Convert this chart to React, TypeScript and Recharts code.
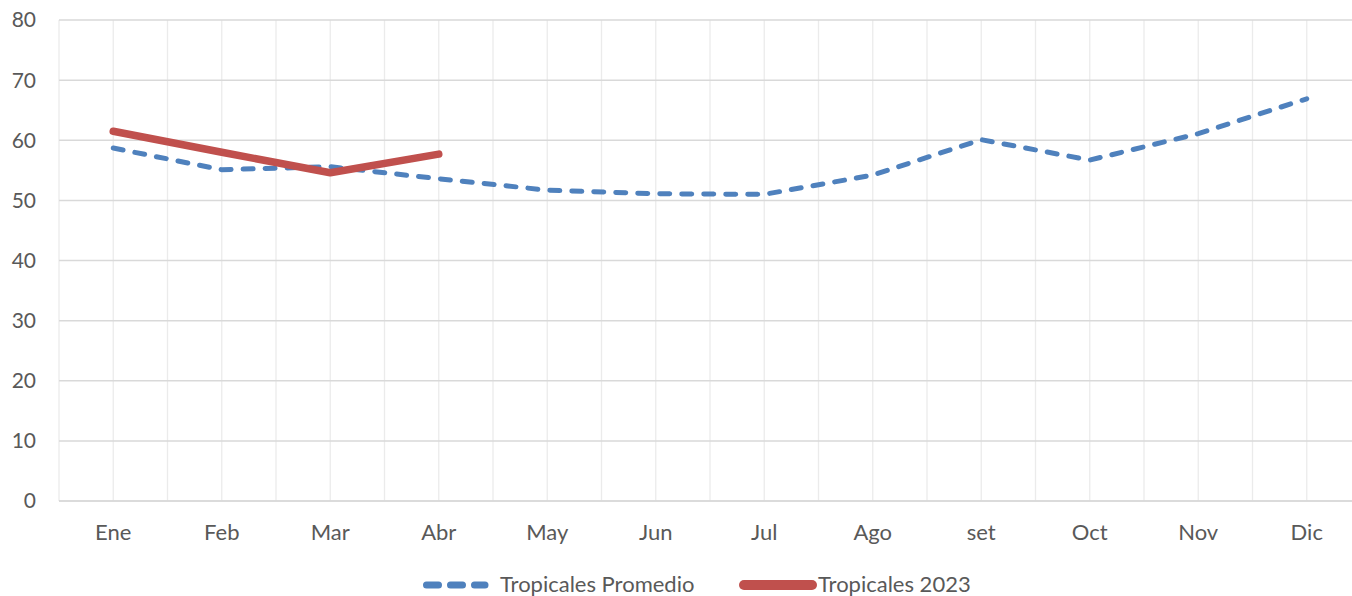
import React from "react";
import { LineChart, Line, XAxis, YAxis, CartesianGrid, Legend } from "recharts";

const months = ["Ene", "Feb", "Mar", "Abr", "May", "Jun", "Jul", "Ago", "set", "Oct", "Nov", "Dic"];
const promedio = [58.7, 55.1, 55.6, 53.6, 51.7, 51.1, 51.0, 54.2, 60.1, 56.7, 61.1, 66.9];
const actual2023: (number | null)[] = [61.5, 58.0, 54.6, 57.7, null, null, null, null, null, null, null, null];
const yTicks = [0, 10, 20, 30, 40, 50, 60, 70, 80];

const SERIES_PROM = "Tropicales Promedio";
const SERIES_2023 = "Tropicales 2023";

const data = months.map((m, i) => ({ i, m, prom: promedio[i], act: actual2023[i] }));
const xTicks = months.map((_, i) => i);

const FONT = "Lato, 'Open Sans', sans-serif";
const TEXT = "#595959";
const BLUE = "#4F81BD";
const RED = "#C0504D";

const LegendContent = () => (
  <div style={{ position: "relative", height: 24, fontFamily: FONT, fontSize: 22, color: TEXT }}>
    <svg style={{ position: "absolute", left: 419, top: 1 }} width={74} height={24}>
      <line x1={7.5} y1={12} x2={66} y2={12} stroke={BLUE} strokeWidth={7} strokeDasharray="12 12" strokeLinecap="round" />
    </svg>
    <span style={{ position: "absolute", left: 500, top: 0, lineHeight: "24px", whiteSpace: "nowrap" }}>{SERIES_PROM}</span>
    <svg style={{ position: "absolute", left: 735, top: 1 }} width={86} height={24}>
      <line x1={9} y1={12} x2={77} y2={12} stroke={RED} strokeWidth={10} strokeLinecap="round" />
    </svg>
    <span style={{ position: "absolute", left: 818, top: 0, lineHeight: "24px", whiteSpace: "nowrap" }}>{SERIES_2023}</span>
  </div>
);

export default function App() {
  return (
    <div style={{ position: "fixed", left: 0, top: 0, width: 1352, height: 596, overflow: "hidden", background: "#fff" }}>
      <LineChart
        width={1370}
        height={596}
        data={data}
        margin={{ top: 20, right: 9, bottom: 0, left: 0 }}
      >
        <CartesianGrid
          horizontal={false}
          stroke="#EBEBEB"
          strokeWidth={1.3}
          verticalCoordinatesGenerator={({ offset }: any) =>
            Array.from({ length: 25 }, (_, k) => offset.left + (k * offset.width) / 24)
          }
        />
        <CartesianGrid vertical={false} stroke="#D9D9D9" strokeWidth={1.5} />
        <XAxis
          dataKey="i"
          type="number"
          domain={[-0.5, 11.5]}
          ticks={xTicks}
          tickFormatter={(v: number) => months[v]}
          interval={0}
          height={71}
          axisLine={{ stroke: "#D9D9D9", strokeWidth: 1.5 }}
          tickLine={false}
          tickSize={0}
          tickMargin={23}
          tick={{ fill: TEXT, fontSize: 22, fontFamily: FONT }}
        />
        <YAxis
          domain={[0, 80]}
          ticks={yTicks}
          width={59}
          axisLine={false}
          tickLine={false}
          tickSize={0}
          tickMargin={23}
          tick={{ fill: TEXT, fontSize: 21, fontFamily: FONT }}
        />
        <Legend verticalAlign="bottom" height={24} content={<LegendContent />} />
        <Line
          dataKey="prom"
          name={SERIES_PROM}
          stroke={BLUE}
          strokeWidth={5}
          strokeDasharray="10 12"
          strokeLinecap="round"
          dot={false}
          activeDot={false}
          isAnimationActive={false}
        />
        <Line
          dataKey="act"
          name={SERIES_2023}
          stroke={RED}
          strokeWidth={7.5}
          strokeLinecap="round"
          strokeLinejoin="round"
          dot={false}
          activeDot={false}
          connectNulls={false}
          isAnimationActive={false}
        />
      </LineChart>
    </div>
  );
}
